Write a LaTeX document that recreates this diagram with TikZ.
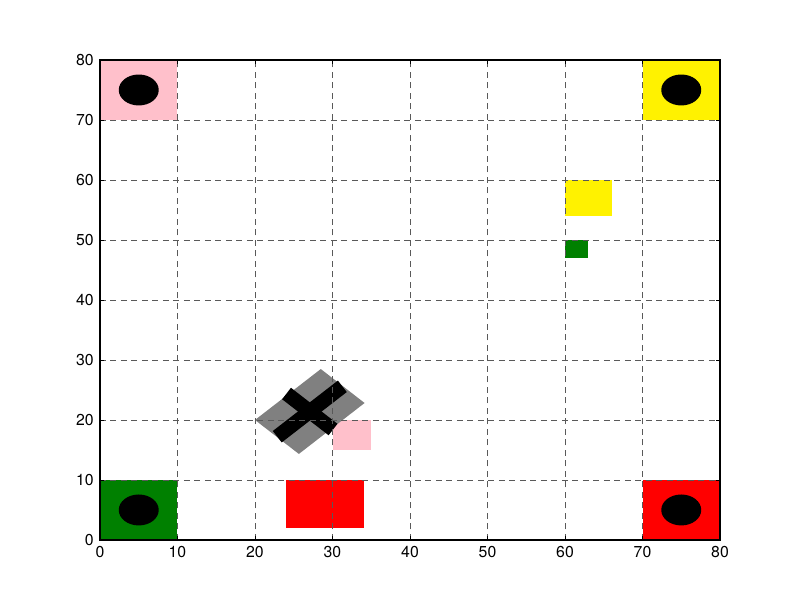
\documentclass[tikz,border=0pt]{standalone}
\usepackage{fontspec}
\setmainfont{TeX Gyre Heros}
\usepackage{xcolor}
\usepackage{tikz}
\usetikzlibrary{positioning}
\definecolor{zonepink}{RGB}{255,192,203}
\definecolor{zonegreen}{RGB}{0,128,0}
\definecolor{blockgray}{RGB}{128,128,128}
\tikzset{
  gridline/.style={black!65, line width=0.45pt, dash pattern=on 0.12cm off 0.09cm},
  crossbar/.style={black, line width=0.29cm},
  ticklabel/.style={font=\fontsize{9}{10.8}\selectfont}
}

\begin{document}
\begin{tikzpicture}[x=0.155cm, y=0.12cm]
\useasboundingbox (-12.903,-10) rectangle (90.323,90);
% corner zones
\fill[zonepink] (0,70) rectangle (10,80);
\fill[yellow] (70,70) rectangle (80,80);
\fill[zonegreen] (0,0) rectangle (10,10);
\fill[red] (70,0) rectangle (80,10);
\foreach \cx/\cy in {5/75,75/75,5/5,75/5}
  \fill[black] (\cx,\cy) ellipse (2.58 and 2.58);
% obstacles
\fill[red] (24,2) rectangle (34,10);
\fill[zonepink] (30,15) rectangle (35,20);
\fill[yellow] (60,54) rectangle (66,60);
\fill[zonegreen] (60,47) rectangle (63,50);
% rotated block with cross
\fill[blockgray] (20,20) -- (28.49,28.49) -- (34.14,22.83) -- (25.66,14.34) -- cycle;
\draw[crossbar] (22.87,17.21) -- (31.27,25.61);
\draw[crossbar] (24.07,24.41) -- (30.07,18.41);
% grid
\foreach \v in {10,20,...,70} {
  \draw[gridline] (\v,0) -- (\v,80);
  \draw[gridline] (0,\v) -- (80,\v);
}
% frame, ticks and labels
\draw[line width=0.8pt] (0,0) rectangle (80,80);
\foreach \v in {0,10,...,80} {
  \draw[line width=0.5pt] (\v,0) -- ++(0,0.08cm);
  \draw[line width=0.5pt] (\v,80) -- ++(0,-0.08cm);
  \draw[line width=0.5pt] (0,\v) -- ++(0.08cm,0);
  \draw[line width=0.5pt] (80,\v) -- ++(-0.08cm,0);
  \node[ticklabel, below] (xt\v) at (\v,0) {\v};
  \node[ticklabel, left] (yt\v) at (0,\v) {\v};
}
\end{tikzpicture}
\end{document}
